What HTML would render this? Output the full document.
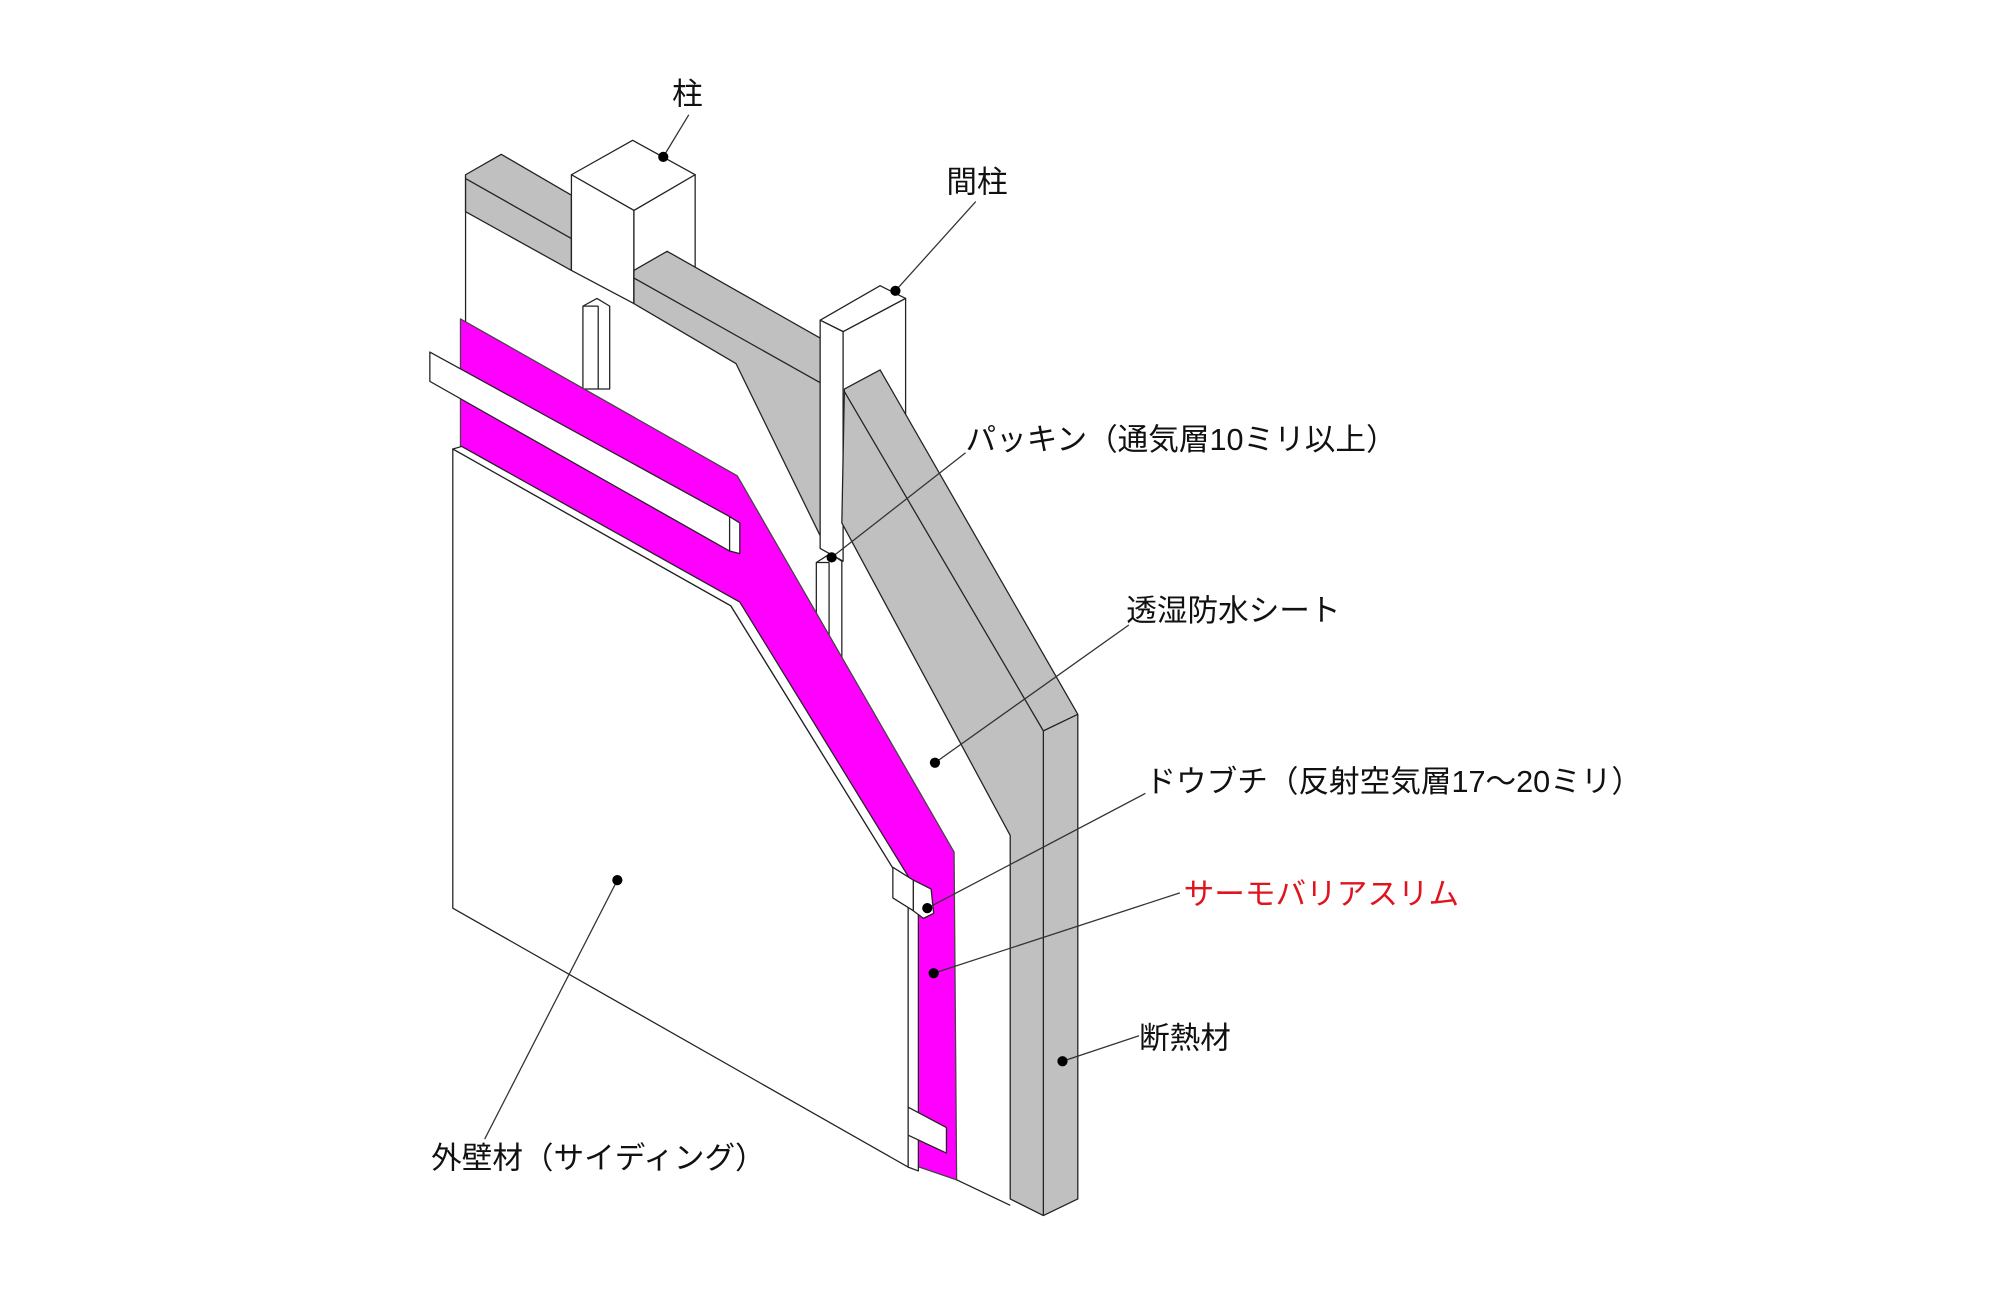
<!DOCTYPE html>
<html><head><meta charset="utf-8"><style>
html,body{margin:0;padding:0;background:#fff;}
svg{display:block;}
text{font-family:"Liberation Sans","Noto Sans CJK JP",sans-serif;font-size:24px;fill:#111;}
</style></head><body>
<svg width="2000" height="1300" viewBox="0 0 1568 1019.2" xmlns="http://www.w3.org/2000/svg">
<rect x="0" y="0" width="1568" height="1019.2" fill="#fff"/>
<g stroke="#222" stroke-width="1" stroke-linejoin="round">
<polygon points="365,166 448,212 497,238 577,285 643,420 643,600 365,600" fill="#fff" stroke="none"/>
<line x1="365" y1="137" x2="365" y2="260"/>
<polygon points="365,137 393,121 448,153 448,212 365,166" fill="#c0c0c0"/>
<line x1="365" y1="140" x2="448" y2="187"/>
<polygon points="448,137 496,110 545,137 497,165" fill="#fff"/>
<polygon points="448,137 497,165 497,238 448,212" fill="#fff"/>
<polygon points="497,165 545,137 545,210 497,238" fill="#fff"/>
<polygon points="497,212 523,197 643,265 643,420 577,285 497,238" fill="#c0c0c0"/>
<line x1="497" y1="218" x2="643" y2="300"/>
<polygon points="457,240 468,234 478,240 478,305 457,305" fill="#fff"/>
<line x1="469" y1="240" x2="469" y2="305"/>
<line x1="457" y1="240" x2="469" y2="240"/>
<polygon points="643,251 690,224 710,234 661,260" fill="#fff"/>
<polygon points="643,251 661,260 661,440 643,430" fill="#fff"/>
<polygon points="661,260 710,234 710,330 661,360" fill="#fff"/>
<polygon points="662,305 690,290 845,560 845,940 818,953 792,940 792,655 660,410" fill="#c0c0c0"/>
<polyline points="662,307 818,573 818,953" fill="none"/>
<line x1="818" y1="573" x2="845" y2="560"/>
<polygon points="640,441 651,434 660,440 660,515 640,515" fill="#fff"/>
<line x1="650" y1="441" x2="650" y2="515"/>
<line x1="640" y1="441" x2="650" y2="441"/>
<polygon points="361,250 578,373 748,668 750,925 712,912 712,700 575,470 361,360" fill="#ff00ff" stroke="#444"/>
<line x1="750" y1="925" x2="792" y2="945"/>
<polygon points="337,276 572,405 580,410 580,434 572,432 337,299" fill="#fff"/>
<line x1="572" y1="405" x2="572" y2="432"/>
<polygon points="355,352 573,475 712,700 712,915 355,712" fill="#fff"/>
<polygon points="355,352 362,350 580,472 720,700 720,918 712,915 712,700 573,475" fill="#fff"/>
<polygon points="716,690 730,697 732,716 724,720 716,714" fill="#fff"/>
<polygon points="700,680 716,690 716,714 700,704" fill="#fff"/>
<polygon points="712,868 742,884 742,904 712,890" fill="#fff"/>
</g>
<g stroke="#333" stroke-width="1" fill="none">
<line x1="520" y1="123" x2="540" y2="90"/>
<line x1="702" y1="228" x2="765" y2="158"/>
<line x1="652" y1="437" x2="757" y2="355"/>
<line x1="733" y1="598" x2="885" y2="490"/>
<line x1="727" y1="712" x2="898" y2="622"/>
<line x1="732" y1="763" x2="925" y2="700"/>
<line x1="833" y1="832" x2="893" y2="812"/>
<line x1="484" y1="690" x2="380" y2="893"/>
</g>
<g fill="#000">
<circle cx="520" cy="123" r="4"/>
<circle cx="702" cy="228" r="4"/>
<circle cx="652" cy="437" r="4"/>
<circle cx="733" cy="598" r="4"/>
<circle cx="727" cy="712" r="4"/>
<circle cx="732" cy="763" r="4"/>
<circle cx="833" cy="832" r="4"/>
<circle cx="484" cy="690" r="4"/>
</g>
<text x="527" y="82">柱</text>
<text x="742" y="151">間柱</text>
<text x="757" y="353">パッキン（通気層10ミリ以上）</text>
<text x="883" y="487">透湿防水シート</text>
<text x="898" y="621">ドウブチ（反射空気層17～20ミリ）</text>
<text x="928" y="709" style="fill:#e0141e">サーモバリアスリム</text>
<text x="893" y="822">断熱材</text>
<text x="338" y="916">外壁材（サイディング）</text>
</svg>
</body></html>
